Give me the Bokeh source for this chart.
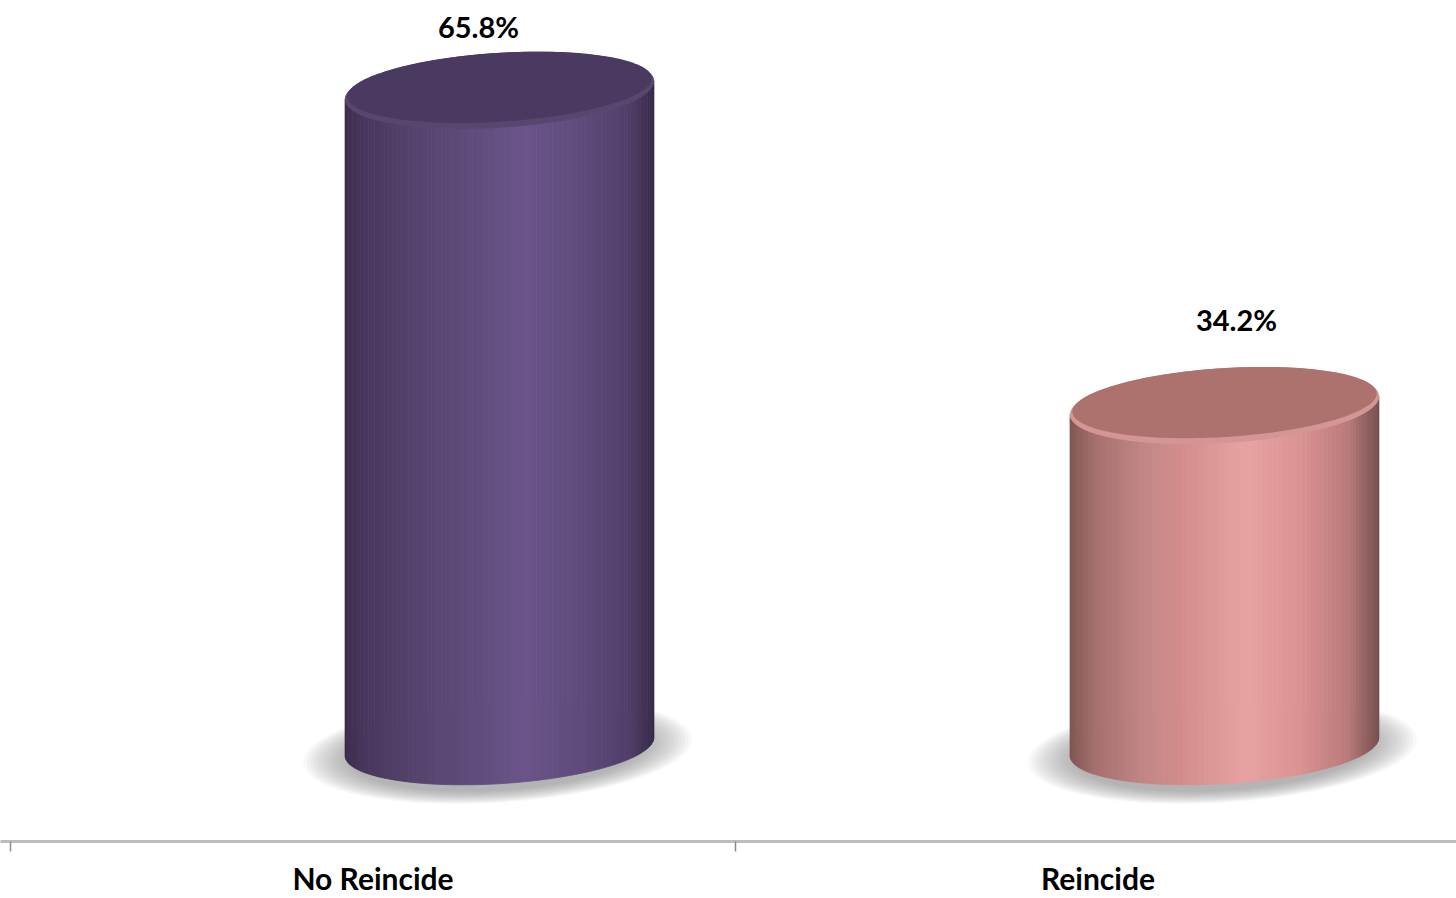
import numpy as np
from bokeh.plotting import figure
from bokeh.models import Range1d, FixedTicker
from bokeh.core.properties import value
from bokeh.embed import file_html
from bokeh.resources import INLINE

# ---------------- data ----------------
categories = ["No Reincide", "Reincide"]
percentages = [65.8, 34.2]
value_labels = ["65.8%", "34.2%"]

# ---------------- style ----------------
purple_stops = [(0.0, (60, 45, 78)), (0.06, (72, 55, 92)), (0.25, (88, 68, 112)),
                (0.45, (98, 78, 126)), (0.58, (106, 84, 138)), (0.78, (94, 74, 122)),
                (0.92, (80, 62, 104)), (1.0, (56, 42, 72))]
pink_stops = [(0.0, (130, 86, 84)), (0.08, (165, 112, 110)), (0.25, (196, 136, 136)),
              (0.35, (210, 140, 140)), (0.57, (232, 162, 162)), (0.75, (218, 146, 146)),
              (0.9, (184, 122, 122)), (1.0, (120, 78, 78))]
gradients = [purple_stops, pink_stops]
cap_colors = ["#4a3a62", "#ad716e"]
rim_colors = ["#58466f", "#d49694"]
label_nudge_px = [(-21, -64), (12, -86)]   # label offset from cylinder top centre (px)

W, H = 1456, 898
FRAME_H = 843
X_START, X_END = -10 / 725, 1446 / 725
Y_START, Y_END = -9.5, 74.8
XPX = W / (X_END - X_START)
YPX = FRAME_H / (Y_END - Y_START)
SHIFT_PX = 126.5        # 3-D depth shift of cylinders to the right
A_PX, B_PX = 154.5, 37.0
THETA = np.deg2rad(-3.6)
N_STRIPS = 90

p = figure(width=W, height=H, output_backend="svg", toolbar_location=None,
           x_range=Range1d(X_START, X_END), y_range=Range1d(Y_START, Y_END),
           y_axis_location=None, min_border_left=0, min_border_right=0,
           min_border_top=0, min_border_bottom=H - FRAME_H)
p.outline_line_color = None
p.grid.visible = False
p.background_fill_color = "white"
p.border_fill_color = "white"


def ell_pts(cx, cy, a, b, phis):
    """rotated ellipse in screen px offsets -> data coords"""
    x = a * np.cos(phis) * np.cos(THETA) - b * np.sin(phis) * np.sin(THETA)
    y = a * np.cos(phis) * np.sin(THETA) + b * np.sin(phis) * np.cos(THETA)
    return cx + x / XPX, cy - y / YPX


def interp_color(stops, t):
    for (t0, c0), (t1, c1) in zip(stops[:-1], stops[1:]):
        if t0 <= t <= t1:
            f = (t - t0) / (t1 - t0) if t1 > t0 else 0
            c = [int(round(c0[k] + f * (c1[k] - c0[k]))) for k in range(3)]
            return "#%02x%02x%02x" % tuple(c)
    return "#%02x%02x%02x" % stops[-1][1]


full = np.linspace(0, 2 * np.pi, 200)
phi_r = np.arctan(-B_PX * np.tan(THETA) / A_PX)
phi_l = phi_r + np.pi

for i, (cat, val) in enumerate(zip(categories, percentages)):
    cx = i + 0.5 + SHIFT_PX / XPX

    # shadow: layered soft ellipses
    for k in range(14):
        s = 1.0 - k * 0.018
        sx, sy = ell_pts(cx - 2 / XPX, 0 - 4 / YPX, (A_PX + 40) * s, (B_PX + 15) * s, full)
        p.patch(list(sx), list(sy), fill_color="#707070", fill_alpha=0.05, line_color=None)

    # body strips
    phis = np.linspace(phi_r, phi_l, N_STRIPS + 1)
    tx, ty = ell_pts(cx, val, A_PX, B_PX, phis)
    bx, by = ell_pts(cx, 0, A_PX, B_PX, phis)
    xmin, xmax = bx.min(), bx.max()
    xs, ys, cols = [], [], []
    for j in range(N_STRIPS):
        xs.append([tx[j], tx[j + 1], bx[j + 1], bx[j]])
        ys.append([ty[j], ty[j + 1], by[j + 1], by[j]])
        t = ((bx[j] + bx[j + 1]) / 2 - xmin) / (xmax - xmin)
        cols.append(interp_color(gradients[i], t))
    p.patches(xs, ys, fill_color=cols, line_color=cols, line_width=0.8)

    # top cap with lighter front rim
    ex, ey = ell_pts(cx, val, A_PX, B_PX, full)
    p.patch(list(ex), list(ey), fill_color=rim_colors[i], line_color=rim_colors[i], line_width=1)
    ix, iy = ell_pts(cx, val + 3.0 / YPX, A_PX - 2, B_PX - 2.5, full)
    p.patch(list(ix), list(iy), fill_color=cap_colors[i], line_color=None)

    # value label
    dx, dy = label_nudge_px[i]
    p.text(x=[cx], y=[val], text=[value_labels[i]], x_offset=dx, y_offset=dy,
           text_align="center", text_baseline="alphabetic",
           text_font=value("Lato"), text_font_style="bold",
           text_font_size="29px", text_color="black")

ax = p.xaxis[0]
ax.ticker = FixedTicker(ticks=[0.5, 1.5], minor_ticks=[0, 1, 2])
ax.major_label_overrides = {0.5: categories[0], 1.5: categories[1]}
ax.major_tick_line_color = None
ax.major_tick_out = 0
ax.major_tick_in = 0
ax.minor_tick_line_color = "#8c8c8c"
ax.minor_tick_line_width = 1.5
ax.minor_tick_out = 10
ax.minor_tick_in = 0
ax.axis_line_color = "#bdbdbd"
ax.axis_line_width = 3
ax.major_label_standoff = 8
ax.major_label_text_font = "Lato"
ax.major_label_text_font_style = "bold"
ax.major_label_text_font_size = "30px"
ax.major_label_text_color = "black"

open("out.html", "w").write(file_html(p, INLINE))
